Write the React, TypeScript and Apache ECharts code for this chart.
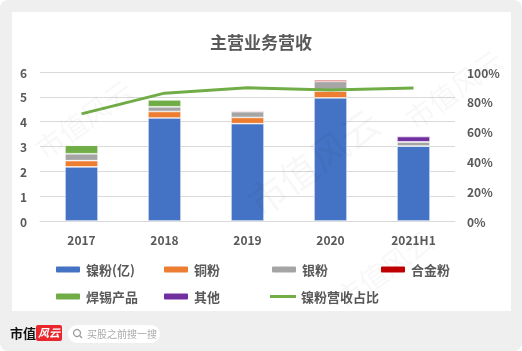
import React, { useEffect, useRef } from "react";
import * as echarts from "echarts";

const categories = ["2017", "2018", "2019", "2020", "2021H1"];
const nickel = [2.18, 4.15, 3.92, 4.96, 3.02];
const copper = [0.25, 0.26, 0.25, 0.27, 0];
const silver = [0.28, 0.19, 0.23, 0.39, 0.17];
const alloy = [0, 0, 0.04, 0.07, 0];
const solder = [0.34, 0.28, 0, 0, 0];
const other = [0, 0, 0, 0, 0.21];
const nickelShare = [71.9, 85.8, 89.4, 88.0, 89.2];

const FONT = '"Noto Sans CJK SC", "Noto Sans", sans-serif';
const TXT = "#595959";

export default function App() {
  const ref = useRef<HTMLDivElement>(null);
  useEffect(() => {
    const chart = echarts.init(ref.current!, null, { renderer: "svg" });
    const bar = (name: string, data: number[], color: string) => ({
      name,
      type: "bar",
      stack: "s",
      barWidth: 33,
      data,
      itemStyle: { color, borderColor: "#ffffff", borderWidth: 0.6 },
    });
    const legendItem = (name: string, left: number, top: number, line = false) => ({
      left,
      top,
      data: [line ? { name, icon: "rect" } : name],
      itemWidth: 26,
      itemHeight: line ? 3 : 8,
      itemGap: 0,
      textStyle: { color: TXT, fontSize: 13, fontWeight: "bold", fontFamily: FONT },
    });
    const wm = (x: number, y: number, size: number) => ({
      type: "text",
      x,
      y,
      rotation: Math.PI / 5,
      z: 100,
      silent: true,
      style: { text: "市值风云", fill: "rgba(0,0,0,0.03)", fontSize: size, fontFamily: FONT },
    });
    chart.setOption({
      animation: false,
      textStyle: { fontFamily: FONT },
      title: {
        text: "主营业务营收",
        left: "center",
        top: 28,
        textStyle: { color: TXT, fontSize: 17, fontWeight: "bold", fontFamily: FONT },
      },
      graphic: [
        { type: "rect", z: -100, shape: { x: 0, y: 0, width: 522, height: 351, r: 8 }, style: { fill: "#efefef" } },
        { type: "rect", z: -99, shape: { x: 12, y: 12, width: 499, height: 299 }, style: { fill: "#ffffff" } },
        wm(30, 140, 28),
        wm(240, 190, 38),
        wm(400, 110, 28),
        wm(330, 290, 28),
        { type: "text", x: 10, y: 326, style: { text: "市值", fill: "#111", fontSize: 13, fontWeight: "bold", fontFamily: FONT } },
        { type: "rect", shape: { x: 36, y: 325, width: 26, height: 16, r: 2 }, style: { fill: "#e8262b" } },
        { type: "text", x: 38, y: 326, style: { text: "风云", fill: "#fff", fontSize: 11, fontStyle: "italic", fontWeight: "bold", fontFamily: FONT } },
        { type: "rect", shape: { x: 68, y: 325, width: 92, height: 18, r: 9 }, style: { fill: "#ffffff" } },
        { type: "circle", shape: { cx: 77, cy: 333, r: 3.5 }, style: { fill: "none", stroke: "#999", lineWidth: 1.2 } },
        { type: "line", shape: { x1: 79.5, y1: 335.5, x2: 82, y2: 338 }, style: { stroke: "#999", lineWidth: 1.2 } },
        { type: "text", x: 87, y: 328, style: { text: "买股之前搜一搜", fill: "#aaa", fontSize: 10, fontFamily: FONT } },
      ],
      legend: [
        legendItem("镍粉(亿)", 49, 258),
        legendItem("铜粉", 157, 258),
        legendItem("银粉", 265, 258),
        legendItem("合金粉", 374, 258),
        legendItem("焊锡产品", 49, 285),
        legendItem("其他", 157, 285),
        legendItem("镍粉营收占比", 265, 285, true),
      ],
      grid: { left: 40, right: 67, top: 72, bottom: 130 },
      xAxis: {
        type: "category",
        data: categories,
        axisLine: { lineStyle: { color: "#d9d9d9" } },
        axisTick: { show: false },
        axisLabel: { color: TXT, fontSize: 12, fontWeight: "bold", margin: 12 },
      },
      yAxis: [
        {
          type: "value",
          min: 0,
          max: 6,
          interval: 1,
          axisLabel: { color: TXT, fontSize: 12, fontWeight: "bold", margin: 13 },
          splitLine: { lineStyle: { color: "#d9d9d9" } },
        },
        {
          type: "value",
          min: 0,
          max: 100,
          interval: 20,
          axisLabel: { color: TXT, fontSize: 12, fontWeight: "bold", margin: 12, formatter: "{value}%" },
          splitLine: { show: false },
        },
      ],
      series: [
        bar("镍粉(亿)", nickel, "#4472C4"),
        bar("铜粉", copper, "#ED7D31"),
        bar("银粉", silver, "#A5A5A5"),
        bar("合金粉", alloy, "#C00000"),
        bar("焊锡产品", solder, "#70AD47"),
        bar("其他", other, "#7030A0"),
        {
          name: "镍粉营收占比",
          type: "line",
          yAxisIndex: 1,
          data: nickelShare,
          symbol: "none",
          lineStyle: { color: "#70AD47", width: 3 },
          itemStyle: { color: "#70AD47" },
        },
      ],
    });
    return () => chart.dispose();
  }, []);
  return <div ref={ref} style={{ position: "fixed", left: 0, top: 0, width: 522, height: 351 }} />;
}
